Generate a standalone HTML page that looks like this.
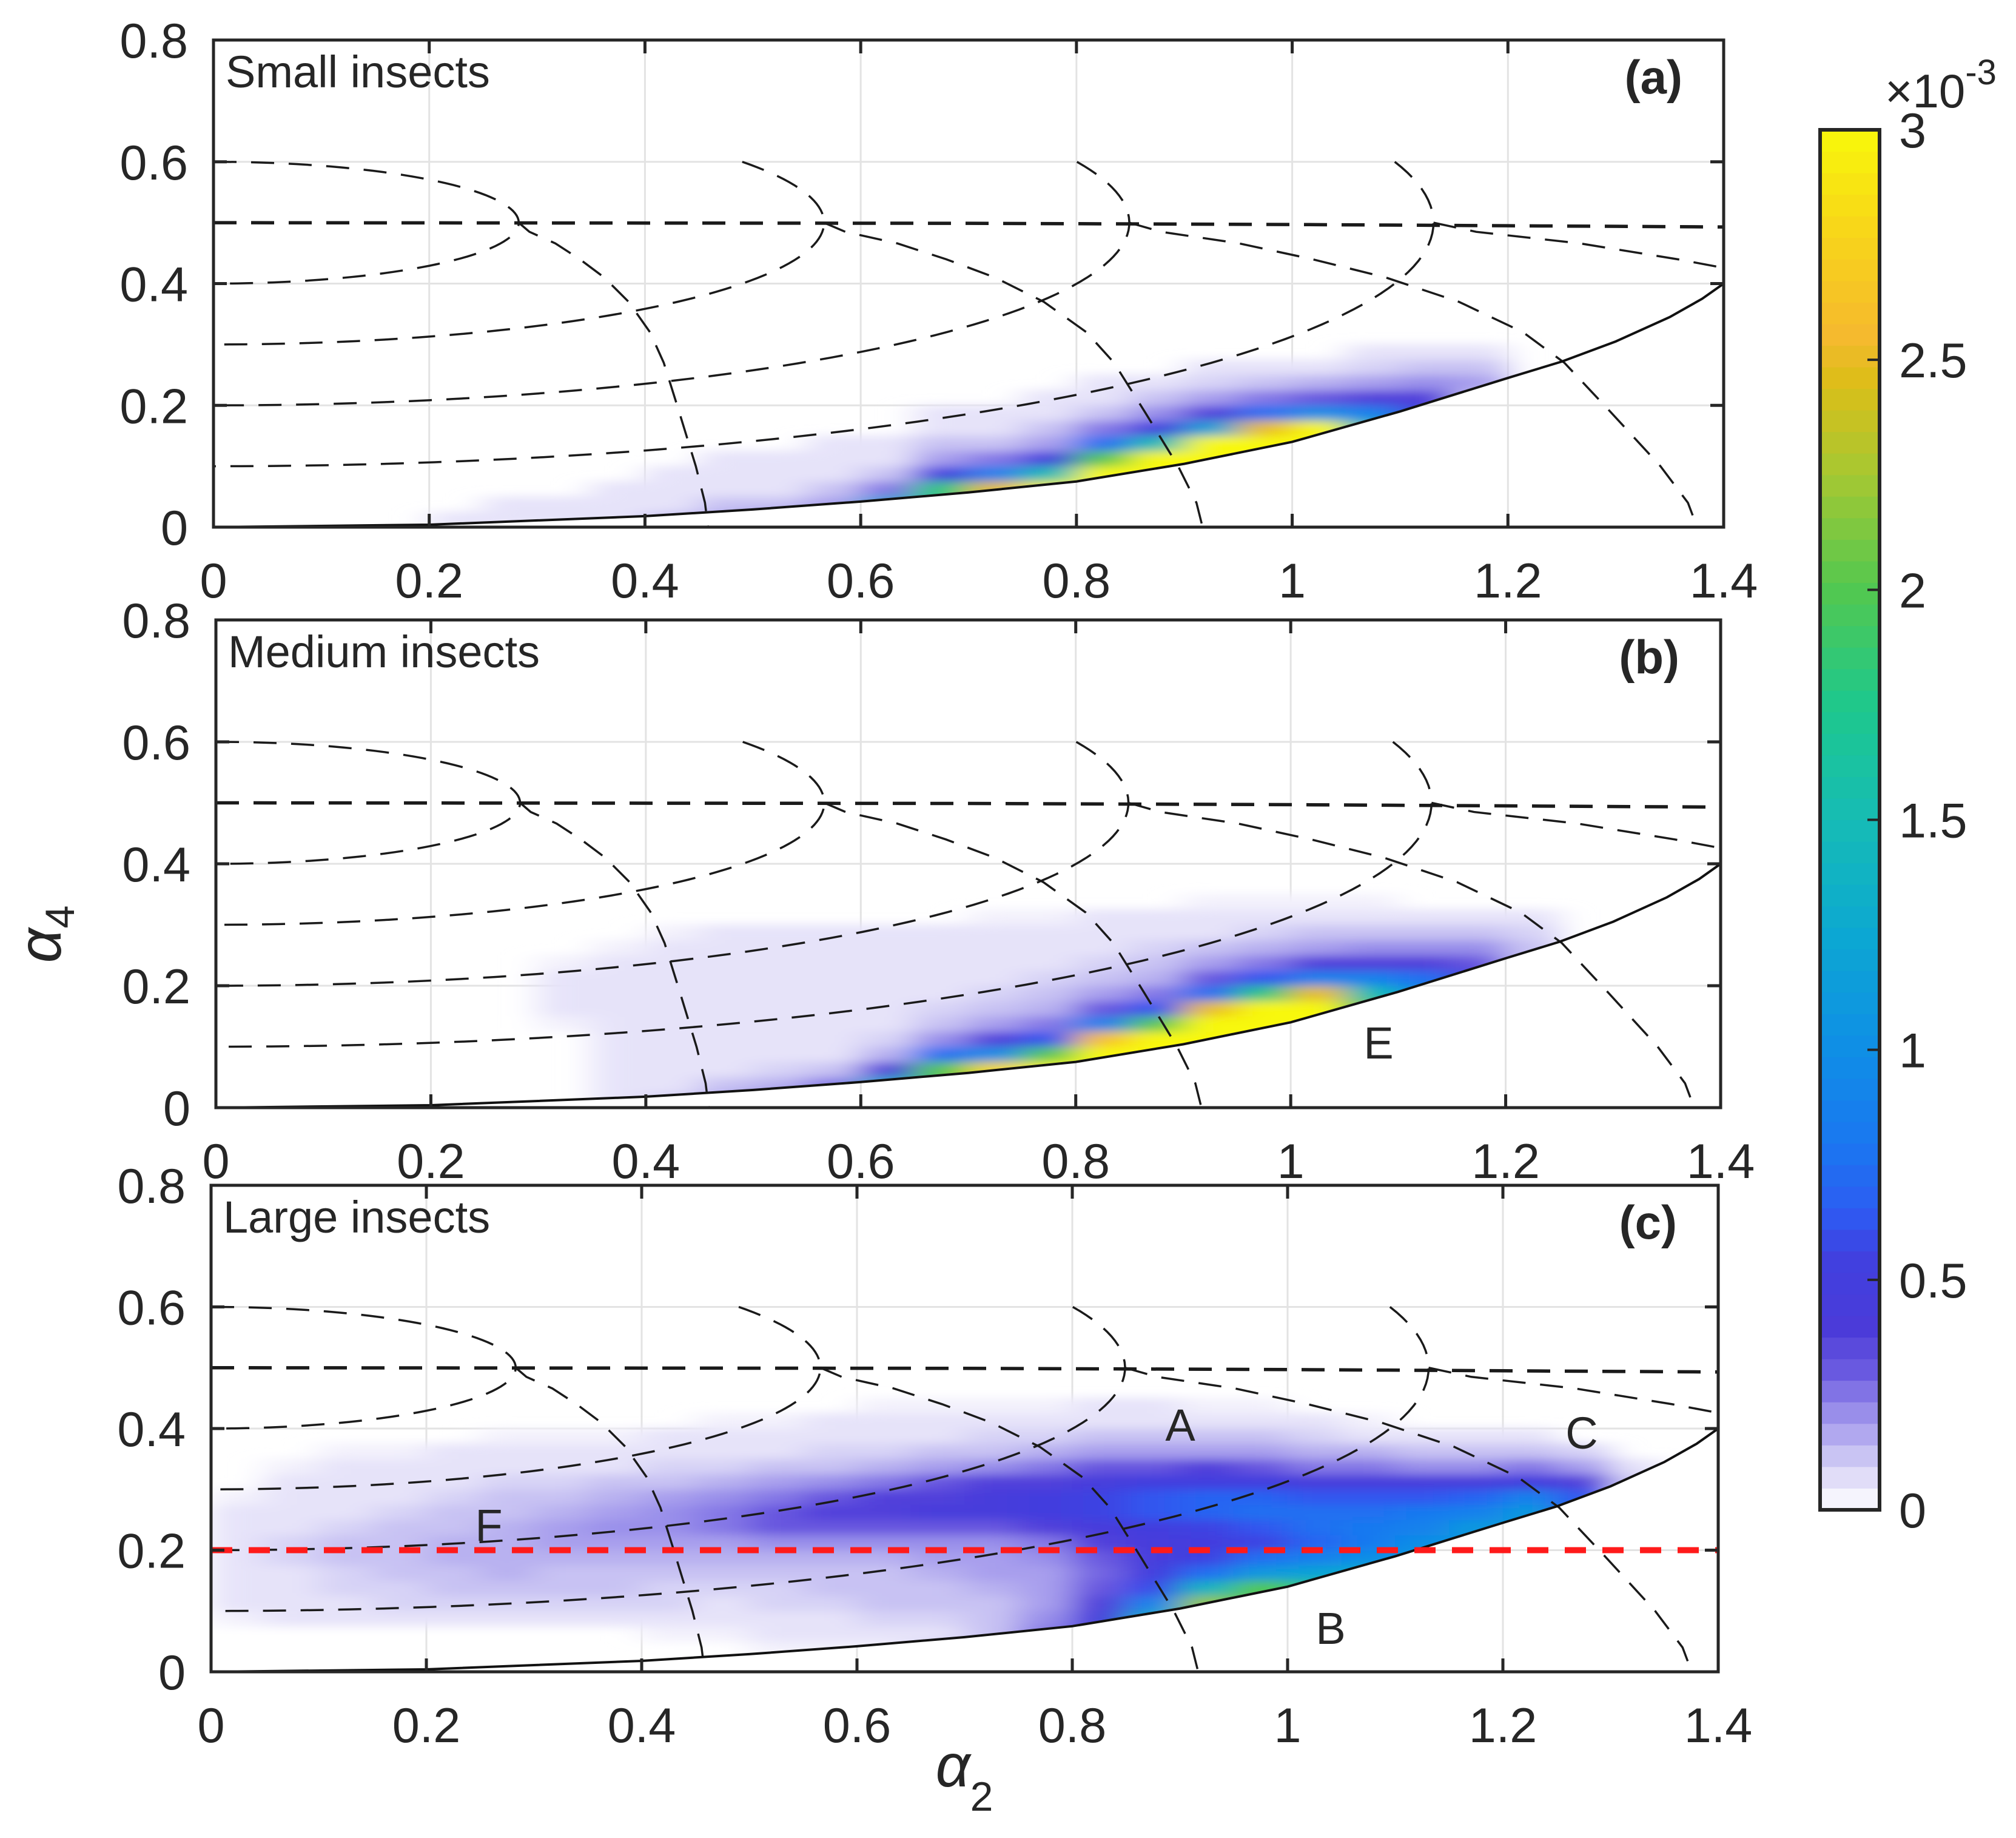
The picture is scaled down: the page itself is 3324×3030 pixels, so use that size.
<!DOCTYPE html>
<html>
<head>
<meta charset="utf-8">
<style>
  html,body{margin:0;padding:0;background:#fff;}
  svg{display:block;}
  text{font-family:"Liberation Sans",Arial,sans-serif;fill:#262626;}
</style>
</head>
<body>
<svg id="fig" xmlns="http://www.w3.org/2000/svg" width="3324" height="3030" viewBox="0 0 3324 3030">
  <rect x="0" y="0" width="3324" height="3030" fill="#fff"/>
</svg>
<script>
// ---------- data ----------
const xTicks = [0,0.2,0.4,0.6,0.8,1.0,1.2,1.4];
const xTickLabels = ["0","0.2","0.4","0.6","0.8","1","1.2","1.4"];
const yTicks = [0,0.2,0.4,0.6,0.8];
const yTickLabels = ["0","0.2","0.4","0.6","0.8"];
const cbTicks = [0,0.5,1,1.5,2,2.5,3];
const cbTickLabels = ["0","0.5","1","1.5","2","2.5","3"];

const boundaryX = [0,0.2,0.4,0.5,0.6,0.7,0.8,0.9,1.0,1.1,1.2,1.25,1.3,1.35,1.38,1.4];
const boundaryY = [0,0.004,0.018,0.029,0.042,0.057,0.075,0.104,0.14,0.19,0.245,0.272,0.305,0.345,0.375,0.4];

const ellipseB = [0.1,0.2,0.3,0.4];
const ellipseA = [0.283,0.566,0.849,1.131];
const descendRatio = [0,0.035,0.12,0.2,0.28,0.36,0.43,0.475,0.525,0.58,0.61,0.62];
const descendY = [0.5,0.485,0.466,0.44,0.41,0.37,0.32,0.27,0.19,0.1,0.04,0];
const flatX = [0,0.7,1.0,1.2,1.4];
const flatY = [0.5,0.499,0.497,0.495,0.493];
const redLevel = 0.2;

const cmapVals = [0,0.06,0.12,0.18,0.24,0.3,0.4,0.55,0.65,0.8,1.0,1.25,1.5,1.75,2.0,2.25,2.45,2.55,2.8,3.0];
const cmapCols = ["#ffffff","#e6e3f9","#c8c2f3","#a89fed","#8a7ee7","#6b5ae0","#4a3bd9","#4040e0","#2d5cf3","#1a78f0","#0f8ee6","#0ca8d2","#16bcb5","#1ec88c","#52c850","#a6c832","#dcbe18","#f5b92e","#f8d818","#f8f80a"];

const densA = [[],[],[],[],
 [.06],[.06,.06],[.06,.06],[.06,.06,.06],[.12,.06,.06,.06],[.18,.12,.06,.06,.06],
 [.38,.12,.06,.06,.06],[.75,.18,.12,.06,.06,.06],[1.2,1.2,.25,.12,.06,.06],
 [1.8,1.8,1.8,.5,.18,.12,.06,.06],[2.5,2.5,2.5,.88,.25,.12,.06,.06],
 [3,3,3,1.5,.5,.18,.12,.06,.06],[3,3,3,3,2,.75,.25,.12,.06,.06],
 [3,3,3,3,3,1.5,.5,.21,.12,.06],[3,3,3,3,3,3,1.2,.38,.18,.09,.06],
 [3,3,3,3,3,3,2.5,.75,.25,.12,.06],[3,3,3,3,3,3,3,1.0,.31,.15,.06],
 [1.5,1.5,1.5,1.5,1.5,1.5,1.5,.88,.38,.18,.09,.06],
 [.5,.5,.5,.5,.5,.5,.5,.5,.38,.21,.12,.06],
 [.12,.12,.12,.12,.12,.12,.12,.12,.12,.18,.12,.06],[],[],[],[]];

const densB = [[],[],[],[],[],[],
 [0,0,0,0,0,.03,.06,.06,.06,.03],
 [.06,.06,.06,.06,.06,.06,.06,.06,.06,.06,.03],
 [.09,.06,.06,.06,.06,.06,.06,.06,.06,.06,.06,.03],
 [.18,.12,.06,.06,.06,.06,.06,.06,.06,.06,.06,.06],
 [.38,.15,.09,.06,.06,.06,.06,.06,.06,.06,.06,.06],
 [.75,.25,.12,.06,.06,.06,.06,.06,.06,.06,.06,.06],
 [1.3,1.3,.38,.15,.09,.06,.06,.06,.06,.06,.06,.06],
 [2,2,2,.75,.21,.12,.09,.06,.06,.06,.06,.06],
 [2.8,2.8,2.8,1.0,.38,.18,.12,.09,.06,.06,.06,.06,.03],
 [3,3,3,2,.63,.25,.15,.12,.09,.06,.06,.06,.03],
 [3,3,3,3,2.6,.88,.31,.18,.12,.09,.06,.06,.06],
 [3,3,3,3,3,2,.63,.25,.15,.12,.09,.06,.06],
 [3,3,3,3,3,3,2.5,.75,.31,.18,.12,.06,.06,.03],
 [3,3,3,3,3,3,3,1.8,.63,.25,.15,.09,.06,.03],
 [3,3,3,3,3,3,3,2.5,.88,.38,.18,.12,.06,.03],
 [2,2,2,2,2,2,2,1.5,.88,.38,.21,.12,.06,.03],
 [1,1,1,1,1,1,1,1,.75,.38,.21,.12,.06],
 [.5,.5,.5,.5,.5,.5,.5,.5,.5,.31,.21,.12,.06],
 [.12,.12,.12,.12,.12,.12,.12,.12,.12,.12,.12,.09,.06],[],[],[]];

const densC = [
 [0,0,0,.03,.06,.06,.06,.06,.06,.06,.06,.03],
 [0,0,0,.06,.06,.06,.06,.09,.09,.06,.06,.06,.06,.03],
 [0,0,0,.06,.06,.09,.09,.12,.12,.09,.06,.06,.06,.06,.03],
 [0,0,0,.06,.09,.09,.12,.12,.12,.12,.09,.06,.06,.06,.03],
 [0,0,0,.06,.09,.12,.12,.15,.15,.12,.12,.09,.06,.06,.06],
 [0,0,0,.06,.09,.12,.15,.15,.15,.15,.12,.12,.09,.06,.06,.03],
 [0,0,0,.06,.09,.12,.12,.15,.18,.18,.15,.12,.09,.06,.06,.03],
 [0,0,0,.06,.09,.12,.12,.15,.18,.21,.18,.15,.12,.06,.06,.03],
 [0,0,.03,.06,.09,.09,.12,.15,.18,.21,.21,.18,.12,.09,.06,.06],
 [0,0,.03,.06,.06,.09,.12,.15,.18,.25,.25,.21,.15,.09,.06,.06,.03],
 [0,.03,.06,.06,.09,.09,.12,.15,.21,.31,.31,.25,.18,.12,.06,.06,.03],
 [0,.03,.06,.06,.09,.12,.12,.15,.21,.31,.38,.31,.21,.12,.09,.06,.06],
 [.03,.03,.06,.09,.12,.12,.12,.15,.21,.31,.38,.38,.25,.15,.09,.06,.06,.03],
 [.1,.1,.06,.09,.12,.12,.15,.18,.21,.31,.44,.38,.31,.18,.12,.06,.06,.03],
 [.12,.12,.12,.12,.12,.15,.18,.18,.21,.31,.44,.44,.38,.21,.12,.09,.06,.03],
 [.25,.25,.25,.21,.18,.18,.18,.21,.25,.38,.5,.5,.38,.25,.15,.09,.06,.03],
 [.5,.5,.5,.45,.38,.31,.28,.3,.38,.44,.56,.56,.44,.31,.18,.12,.06,.06],
 [1.5,1.5,1.5,1.3,.9,.6,.5,.44,.44,.5,.63,.63,.5,.31,.18,.12,.06,.06],
 [2.2,2.2,2.2,2.2,2.2,1.4,.75,.56,.5,.56,.69,.69,.5,.38,.18,.12,.06,.03],
 [2,2,2,2,2,2,1.1,.75,.56,.63,.75,.69,.5,.31,.18,.12,.06,.03],
 [1.8,1.8,1.8,1.8,1.8,1.8,1.2,.88,.69,.75,.75,.63,.44,.25,.15,.09,.06],
 [1.3,1.3,1.3,1.3,1.3,1.3,1.3,1.0,.81,.81,.75,.63,.44,.25,.15,.06,.03],
 [1.1,1.1,1.1,1.1,1.1,1.1,1.1,1.1,1.0,.88,.81,.63,.44,.21,.12,.06],
 [1.1,1.1,1.1,1.1,1.1,1.1,1.1,1.1,1.1,1.1,.88,.69,.44,.21,.12,.06],
 [1.1,1.1,1.1,1.1,1.1,1.1,1.1,1.1,1.1,1.1,1.1,.88,.5,.25,.12,.06],
 [.63,.63,.63,.63,.63,.63,.63,.63,.63,.63,.63,.63,.38,.18,.09],
 [0,0,0,0,0,0,0,0,0,0,0,0,.1,.06],[]];

const binW = 0.05, binH = 0.025;

// ---------- layout ----------
const NS = "http://www.w3.org/2000/svg";
const svg = document.getElementById("fig");
const panels = [
  {id:"a", l:352, r:2842, t:66,   b:869,  dens:densA, title:"Small insects",  letter:"(a)"},
  {id:"b", l:356, r:2837, t:1022, b:1826, dens:densB, title:"Medium insects", letter:"(b)"},
  {id:"c", l:348, r:2833, t:1954, b:2756, dens:densC, title:"Large insects",  letter:"(c)"}
];
const cb = {l:3001, r:3099, t:214, b:2489, max:3};

function mk(tag, attrs, parent){
  const e = document.createElementNS(NS, tag);
  for (const k in attrs) e.setAttribute(k, attrs[k]);
  (parent||svg).appendChild(e);
  return e;
}
function hex2rgb(h){return [parseInt(h.substr(1,2),16),parseInt(h.substr(3,2),16),parseInt(h.substr(5,2),16)];}
function cmap(v){
  if (v<=cmapVals[0]) return cmapCols[0];
  for (let i=1;i<cmapVals.length;i++){
    if (v<=cmapVals[i]){
      const f=(v-cmapVals[i-1])/(cmapVals[i]-cmapVals[i-1]);
      const a=hex2rgb(cmapCols[i-1]), b=hex2rgb(cmapCols[i]);
      return "rgb("+a.map((x,j)=>Math.round(x+(b[j]-x)*f)).join(",")+")";
    }
  }
  return cmapCols[cmapCols.length-1];
}

const defs = mk("defs",{});
const blur = mk("filter",{id:"soft", filterUnits:"userSpaceOnUse", x:0, y:0, width:3324, height:3030}, defs);
mk("feGaussianBlur",{stdDeviation:"28 8"}, blur);

panels.forEach(p=>{
  const X = v => p.l + v/1.4*(p.r-p.l);
  const Y = v => p.b - v/0.8*(p.b-p.t);

  const cpPlot = mk("clipPath",{id:"plot-"+p.id}, defs);
  mk("rect",{x:p.l, y:p.t, width:p.r-p.l, height:p.b-p.t}, cpPlot);
  const cpAbove = mk("clipPath",{id:"above-"+p.id}, defs);
  let pts = boundaryX.map((x,i)=>X(x)+","+Y(boundaryY[i]));
  pts.push(X(1.4)+","+Y(0.8)); pts.push(X(0)+","+Y(0.8));
  mk("polygon",{points:pts.join(" ")}, cpAbove);

  const g = mk("g",{});
  
  

  const grid = mk("g",{stroke:"#e3e3e3","stroke-width":3}, g);
  
  
  xTicks.slice(1,-1).forEach(v=>mk("line",{x1:X(v),x2:X(v),y1:p.t,y2:p.b},grid));
  yTicks.slice(1,-1).forEach(v=>mk("line",{x1:p.l,x2:p.r,y1:Y(v),y2:Y(v)},grid));

  const hmOuter = mk("g",{"clip-path":"url(#above-"+p.id+")"}, g);
  const hmClip = mk("g",{"clip-path":"url(#plot-"+p.id+")"}, hmOuter);
  const hm = mk("g",{filter:"url(#soft)"}, hmClip);
  
  
  p.dens.forEach((col,ci)=>{
    col.forEach((v,ri)=>{
      if (!v) return;
      const x0=X(ci*binW), x1=X((ci+1)*binW), y0=Y((ri+1)*binH), y1=Y(ri*binH);
      const c = mk("rect",{x:x0-0.5,y:y0-0.5,width:x1-x0+1,height:y1-y0+1,fill:cmap(v)},hm);
      
      
    });
  });

  const cg = mk("g",{"clip-path":"url(#plot-"+p.id+")", fill:"none"}, g);
  
  
  const dash = {stroke:"#1a1a1a","stroke-width":3.5,"stroke-dasharray":"38 24"};
  const fl = mk("polyline",Object.assign({points:flatX.map((x,i)=>X(x)+","+Y(flatY[i])).join(" ")},dash,{"stroke-width":5.5}),cg);
  
  
  ellipseB.forEach((b,k)=>{
    const a = ellipseA[k];
    const th0 = b>0.1 ? Math.acos(0.1/b) : 0;
    const arr=[];
    for (let i=0;i<=80;i++){
      const th = th0 + (Math.PI-th0)*i/80;
      arr.push(X(a*Math.sin(th))+","+Y(0.5+b*Math.cos(th)));
    }
    const e = mk("polyline",Object.assign({points:arr.join(" ")},dash),cg);
    
    
  });
  ellipseA.forEach(a=>{
    const arr = descendRatio.map((r,i)=>X(a*(1+r))+","+Y(descendY[i]));
    const d = mk("polyline",Object.assign({points:arr.join(" ")},dash),cg);
    
    
  });
  const bd = mk("polyline",{points:boundaryX.map((x,i)=>X(x)+","+Y(boundaryY[i])).join(" "),stroke:"#111","stroke-width":4,fill:"none"},cg);
  
  
  if (p.id==="c"){
    const rl = mk("line",{x1:X(0),x2:X(1.4),y1:Y(redLevel),y2:Y(redLevel),stroke:"#ff1a1a","stroke-width":10,"stroke-dasharray":"35 27"},cg);
    
    
  }

  const ax = mk("g",{stroke:"#262626","stroke-width":5,fill:"none"}, g);
  
  
  mk("rect",{x:p.l,y:p.t,width:p.r-p.l,height:p.b-p.t},ax);
  const tl=22;
  xTicks.forEach(v=>{mk("line",{x1:X(v),x2:X(v),y1:p.b,y2:p.b-tl},ax);mk("line",{x1:X(v),x2:X(v),y1:p.t,y2:p.t+tl},ax);});
  yTicks.forEach(v=>{mk("line",{x1:p.l,x2:p.l+tl,y1:Y(v),y2:Y(v)},ax);mk("line",{x1:p.r,x2:p.r-tl,y1:Y(v),y2:Y(v)},ax);});

  xTicks.forEach((v,i)=>{
    const t = mk("text",{x:X(v),y:p.b+116,"text-anchor":"middle","font-size":81},g);
    t.textContent = xTickLabels[i];
    
    
  });
  yTicks.forEach((v,i)=>{
    const t = mk("text",{x:p.l-42,y:Y(v)+29,"text-anchor":"end","font-size":81},g);
    t.textContent = yTickLabels[i];
    
    
  });

  const tt = mk("text",{x:p.l+20,y:p.t+78,"font-size":74},g);
  tt.textContent = p.title;
  
  
  const lt = mk("text",{x:p.r-68,y:p.t+88,"font-size":78,"font-weight":"bold","text-anchor":"end"},g);
  lt.textContent = p.letter;
  
  
});

const notes = [["E",2273,1745],["A",1946,2375],["C",2608,2388],["F",806,2540],["B",2194,2710]];
notes.forEach(n=>{
  const t = mk("text",{x:n[1],y:n[2],"text-anchor":"middle","font-size":74});
  t.textContent = n[0];
  
  
});

const ya = mk("text",{x:0,y:0,"font-size":100,"font-style":"italic","font-family":"Liberation Serif, DejaVu Serif, serif",transform:"translate(100,1540) rotate(-90)","text-anchor":"middle"});
ya.innerHTML = 'α<tspan font-size="68" font-style="normal" dy="22">4</tspan>';


const xa = mk("text",{x:1590,y:2945,"font-size":100,"font-style":"italic","font-family":"Liberation Serif, DejaVu Serif, serif","text-anchor":"middle"});
xa.innerHTML = 'α<tspan font-size="68" font-style="normal" dy="40">2</tspan>';



const cbg = mk("g",{});


const nb = 64;
for (let k=0;k<nb;k++){
  const v0 = k*cb.max/nb, v1=(k+1)*cb.max/nb;
  const y0 = cb.b - v1/cb.max*(cb.b-cb.t), y1 = cb.b - v0/cb.max*(cb.b-cb.t);
  mk("rect",{x:cb.l,y:y0-0.5,width:cb.r-cb.l,height:y1-y0+1,fill:cmap((v0+v1)/2)},cbg);
}
mk("rect",{x:cb.l,y:cb.t,width:cb.r-cb.l,height:cb.b-cb.t,fill:"none",stroke:"#262626","stroke-width":6},cbg);
cbTicks.forEach((v,i)=>{
  const y = cb.b - v/cb.max*(cb.b-cb.t);
  mk("line",{x1:cb.r,x2:cb.r-20,y1:y,y2:y,stroke:"#262626","stroke-width":4},cbg);
  const t = mk("text",{x:cb.r+32,y:y+29,"font-size":81},cbg);
  t.textContent = cbTickLabels[i];
  
  
});
const ex = mk("text",{x:3108,y:177,"font-size":78});
ex.innerHTML = '×10<tspan font-size="58" dy="-38">-3</tspan>';


</script>
</body>
</html>
